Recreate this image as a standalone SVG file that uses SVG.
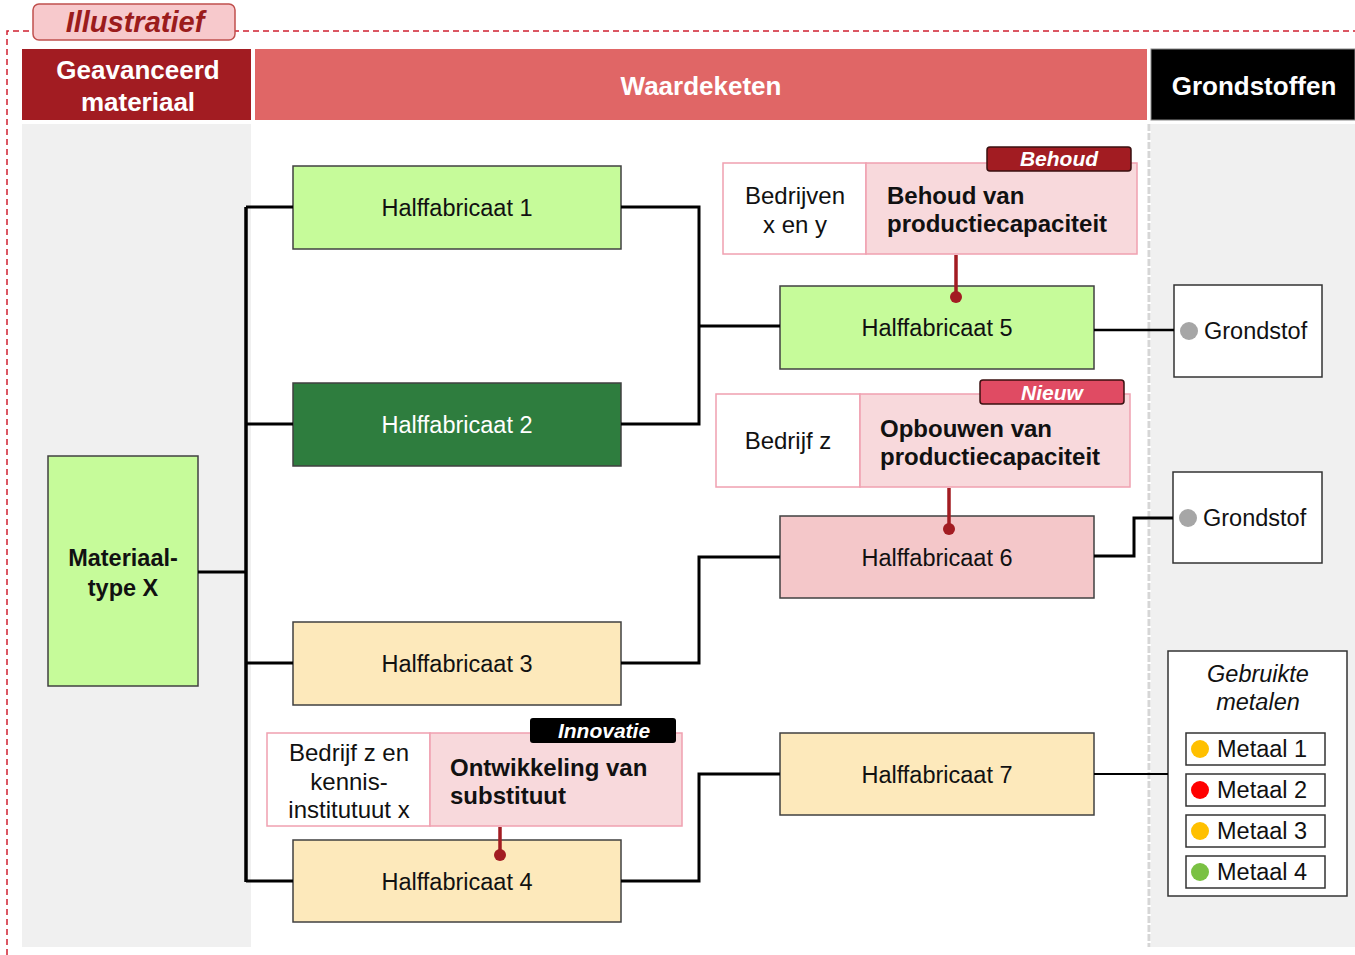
<svg xmlns="http://www.w3.org/2000/svg" width="1355" height="955" viewBox="0 0 1355 955">
<style>
text{font-family:"Liberation Sans",Arial,sans-serif;}
.node{stroke:#404040;stroke-width:1.5;}
.lg{fill:#c6fb9a;}
.dg{fill:#2e7d3e;}
.yl{fill:#fde9bb;}
.pk{fill:#f4c7c9;}
.lbl{font-size:23.5px;fill:#111;text-anchor:middle;}
.hdr{font-size:26px;font-weight:bold;fill:#fff;text-anchor:middle;}
.conn{fill:none;stroke:#000;stroke-width:3.5;}
.cl{fill:none;stroke:#000;stroke-width:3;}
.red{stroke:#a21c22;stroke-width:3.5;}
.cw{fill:#fff;stroke:#f0a0b0;stroke-width:1.5;}
.cp{fill:#f8d9dc;stroke:#f0a0b0;stroke-width:1.5;}
.ct{font-size:24px;fill:#111;}
.cb{font-size:24px;font-weight:bold;fill:#111;}
.tag{font-size:21px;font-weight:bold;font-style:italic;fill:#fff;text-anchor:middle;}
.box{fill:#fff;stroke:#333;stroke-width:1.5;}
</style>
<rect width="1355" height="955" fill="#fff"/>
<!-- column backgrounds -->
<rect x="22" y="124" width="229" height="823" fill="#f0f0f0"/>
<rect x="1151" y="124" width="204" height="823" fill="#f0f0f0"/>
<line x1="1149" y1="124" x2="1149" y2="947" stroke="#d6d6d6" stroke-width="3" stroke-dasharray="7 2"/>
<!-- dashed frame -->
<path d="M7,955 V31 H1355" fill="none" stroke="#d02030" stroke-width="1.5" stroke-dasharray="6 4"/>
<g id="tag-illustratief">
<rect x="33" y="4" width="202" height="36" rx="6" fill="#f7c9cc" stroke="#c0504d" stroke-width="1.5"/>
<text x="135" y="32" font-size="29" font-weight="bold" font-style="italic" fill="#9b1c1c" text-anchor="middle">Illustratief</text>
</g>
<!-- headers -->
<g id="hdr-materiaal">
<rect x="22" y="49" width="229" height="71" fill="#a21c22"/>
<text class="hdr" x="138" y="79">Geavanceerd</text>
<text class="hdr" x="138" y="111">materiaal</text>
</g>
<g id="hdr-waardeketen">
<rect x="255" y="49" width="892" height="71" fill="#e06666"/>
<text class="hdr" x="701" y="95">Waardeketen</text>
</g>
<g id="hdr-grondstoffen">
<rect x="1151" y="49" width="204" height="71" fill="#000" stroke="#888" stroke-width="1"/>
<text class="hdr" x="1254" y="95">Grondstoffen</text>
</g>
<!-- nodes -->
<g id="materiaaltype">
<rect class="node lg" x="48" y="456" width="150" height="230"/>
<text class="lbl" x="123" y="566" font-weight="bold" font-size="24">Materiaal-</text>
<text class="lbl" x="123" y="596" font-weight="bold" font-size="24">type X</text>
</g>
<g id="h1"><rect class="node lg" x="293" y="166" width="328" height="83"/><text class="lbl" x="457" y="216">Halffabricaat 1</text></g>
<g id="h2"><rect class="node dg" x="293" y="383" width="328" height="83"/><text class="lbl" x="457" y="433" style="fill:#fff">Halffabricaat 2</text></g>
<g id="h3"><rect class="node yl" x="293" y="622" width="328" height="83"/><text class="lbl" x="457" y="672">Halffabricaat 3</text></g>
<g id="h4"><rect class="node yl" x="293" y="840" width="328" height="82"/><text class="lbl" x="457" y="890">Halffabricaat 4</text></g>
<g id="h5"><rect class="node lg" x="780" y="286" width="314" height="83"/><text class="lbl" x="937" y="336">Halffabricaat 5</text></g>
<g id="h6"><rect class="node pk" x="780" y="516" width="314" height="82"/><text class="lbl" x="937" y="566">Halffabricaat 6</text></g>
<g id="h7"><rect class="node yl" x="780" y="733" width="314" height="82"/><text class="lbl" x="937" y="783">Halffabricaat 7</text></g>
<g id="grondstof1">
<rect class="box" x="1174" y="285" width="148" height="92"/>
<circle cx="1189" cy="331" r="9" fill="#a6a6a6"/>
<text x="1204" y="339" font-size="23.5" fill="#111">Grondstof</text>
</g>
<g id="grondstof2">
<rect class="box" x="1173" y="472" width="149" height="91"/>
<circle cx="1188" cy="518" r="9" fill="#a6a6a6"/>
<text x="1203" y="526" font-size="23.5" fill="#111">Grondstof</text>
</g>
<g id="metalen">
<rect class="box" x="1168" y="651" width="179" height="245"/>
<text x="1258" y="682" font-size="23.5" font-style="italic" fill="#111" text-anchor="middle">Gebruikte</text>
<text x="1258" y="710" font-size="23.5" font-style="italic" fill="#111" text-anchor="middle">metalen</text>
<rect class="box" x="1186" y="733" width="139" height="32"/>
<circle cx="1200" cy="749" r="9" fill="#ffc000"/>
<text x="1217" y="757" font-size="23.5" fill="#111">Metaal 1</text>
<rect class="box" x="1186" y="774" width="139" height="32"/>
<circle cx="1200" cy="790" r="9" fill="#ff0000"/>
<text x="1217" y="798" font-size="23.5" fill="#111">Metaal 2</text>
<rect class="box" x="1186" y="815" width="139" height="32"/>
<circle cx="1200" cy="831" r="9" fill="#ffc000"/>
<text x="1217" y="839" font-size="23.5" fill="#111">Metaal 3</text>
<rect class="box" x="1186" y="856" width="139" height="32"/>
<circle cx="1200" cy="872" r="9" fill="#7ac143"/>
<text x="1217" y="880" font-size="23.5" fill="#111">Metaal 4</text>
</g>
<!-- callouts -->
<g id="callout-behoud">
<rect class="cw" x="723" y="163" width="143" height="91"/>
<rect class="cp" x="866" y="163" width="271" height="91"/>
<text class="ct" x="795" y="204" text-anchor="middle">Bedrijven</text>
<text class="ct" x="795" y="233" text-anchor="middle">x en y</text>
<text class="cb" x="887" y="204">Behoud van</text>
<text class="cb" x="887" y="232">productiecapaciteit</text>
<rect x="987" y="147" width="144" height="24" rx="3" fill="#a21c22" stroke="#3a1010" stroke-width="1.5"/>
<text class="tag" x="1059" y="166">Behoud</text>
</g>
<g id="callout-nieuw">
<rect class="cw" x="716" y="394" width="144" height="93"/>
<rect class="cp" x="860" y="394" width="270" height="93"/>
<text class="ct" x="788" y="449" text-anchor="middle">Bedrijf z</text>
<text class="cb" x="880" y="437">Opbouwen van</text>
<text class="cb" x="880" y="465">productiecapaciteit</text>
<rect x="980" y="380" width="144" height="24" rx="3" fill="#e04b63" stroke="#3a1010" stroke-width="1.5"/>
<text class="tag" x="1052" y="400">Nieuw</text>
</g>
<g id="callout-innovatie">
<rect class="cw" x="267" y="733" width="163" height="93"/>
<rect class="cp" x="430" y="733" width="252" height="93"/>
<text class="ct" x="349" y="761" text-anchor="middle">Bedrijf z en</text>
<text class="ct" x="349" y="790" text-anchor="middle">kennis-</text>
<text class="ct" x="349" y="818" text-anchor="middle">institutuut x</text>
<text class="cb" x="450" y="776">Ontwikkeling van</text>
<text class="cb" x="450" y="804">substituut</text>
<rect x="530" y="718" width="146" height="25" rx="3" fill="#000"/>
<text class="tag" x="604" y="738">Innovatie</text>
</g>
<!-- connectors -->
<g id="connectors">
<path class="conn" d="M246,207 V882"/>
<path class="cl" d="M198,572 H246"/>
<path class="cl" d="M246,207 H293 M246,424 H293 M246,663 H293 M246,881 H293"/>
<path class="cl" d="M621,207 H699 V424 H621 M699,326 H780"/>
<path class="cl" d="M621,663 H699 V557 H780"/>
<path class="cl" d="M621,881 H699 V774 H780"/>
<path fill="none" stroke="#000" stroke-width="2.5" d="M1094,330 H1174"/>
<path class="cl" d="M1094,556 H1134 V518 H1173"/>
<path fill="none" stroke="#000" stroke-width="2" d="M1094,774 H1168"/>
<path class="red" d="M956,255 V297 M949,488 V529 M500,827 V855"/>
<circle cx="956" cy="297" r="6" fill="#a21c22"/>
<circle cx="949" cy="529" r="6" fill="#a21c22"/>
<circle cx="500" cy="855" r="6" fill="#a21c22"/>
</g>
</svg>
